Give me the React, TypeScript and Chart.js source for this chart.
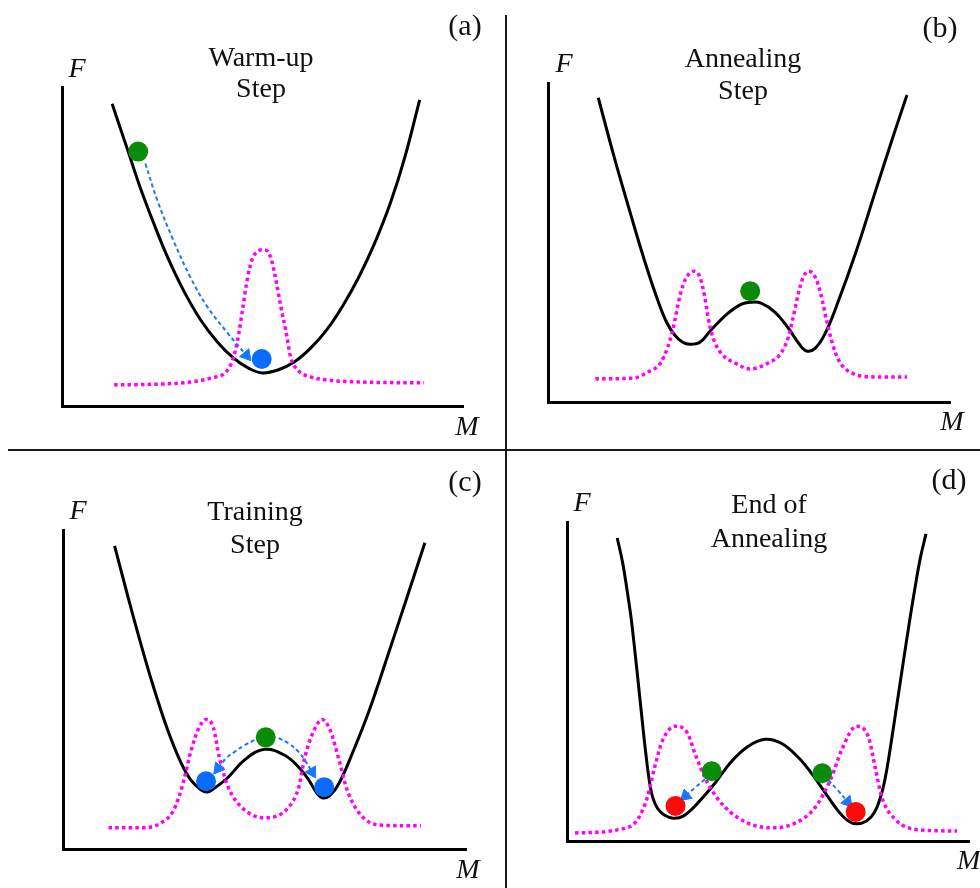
import React, { useEffect, useRef } from "react";
import { Chart, registerables } from "chart.js";

Chart.register(...registerables);

// ---------------- data: M along x (0..10), F along y (0..8), arbitrary units ----------------
// (a) Warm-up step
const warmupFreeEnergy = [
  [1.25, 7.58], [1.45, 6.98], [1.7, 6.23], [1.95, 5.48], [2.28, 4.6], [2.63, 3.74], [3.03, 2.9],
  [3.45, 2.17], [3.88, 1.6], [4.28, 1.2], [4.65, 0.95], [5.0, 0.83], [5.4, 0.91], [5.8, 1.11],
  [6.2, 1.45], [6.6, 1.91], [7.0, 2.51], [7.4, 3.23], [7.8, 4.09], [8.2, 5.12], [8.55, 6.24],
  [8.92, 7.68],
];
const warmupDistribution = [
  [1.3, 0.53], [2.45, 0.55], [3.2, 0.6], [3.7, 0.7], [4.13, 0.9], [4.28, 1.23], [4.38, 1.65],
  [4.5, 2.4], [4.63, 3.23], [4.75, 3.7], [4.88, 3.88], [5.0, 3.92], [5.13, 3.88], [5.24, 3.6],
  [5.35, 3.08], [5.46, 2.48], [5.58, 1.9], [5.7, 1.23], [5.88, 0.9], [6.2, 0.73], [6.63, 0.65],
  [7.5, 0.6], [9.03, 0.58],
];
const warmupPath = [[2.08, 6.08], [2.38, 5.15], [2.78, 4.15], [3.2, 3.23], [3.63, 2.48], [4.13, 1.83], [4.6, 1.27]];
const warmupStart = [[1.9, 6.38]];
const warmupEnd = [[4.98, 1.18]];

// (b) Annealing step
const annealFreeEnergy = [
  [1.25, 7.63], [1.65, 6.13], [2.05, 4.73], [2.4, 3.55], [2.73, 2.55], [2.95, 2.0], [3.15, 1.68],
  [3.35, 1.5], [3.53, 1.45], [3.78, 1.5], [4.05, 1.8], [4.48, 2.23], [4.8, 2.45], [5.03, 2.5],
  [5.3, 2.48], [5.65, 2.25], [5.98, 1.85], [6.23, 1.48], [6.43, 1.28], [6.65, 1.35], [6.9, 1.73],
  [7.23, 2.55], [7.65, 3.73], [8.15, 5.3], [8.55, 6.55], [8.93, 7.7],
];
const annealDistribution = [
  [1.18, 0.58], [2.13, 0.6], [2.48, 0.75], [2.8, 0.98], [2.98, 1.38], [3.1, 1.8], [3.3, 2.73],
  [3.43, 3.1], [3.63, 3.28], [3.78, 3.13], [3.9, 2.63], [3.98, 2.13], [4.1, 1.63], [4.3, 1.23],
  [4.65, 0.98], [5.03, 0.83], [5.48, 0.98], [5.8, 1.23], [5.98, 1.63], [6.1, 2.13], [6.23, 2.73],
  [6.35, 3.13], [6.48, 3.28], [6.65, 3.13], [6.78, 2.73], [6.93, 2.05], [7.05, 1.55], [7.23, 1.05],
  [7.55, 0.73], [8.15, 0.63], [8.93, 0.63],
];
const annealState = [[5.03, 2.78]];

// (c) Training step
const trainFreeEnergy = [
  [1.28, 7.6], [1.6, 6.37], [1.93, 5.15], [2.25, 4.05], [2.6, 2.98], [2.93, 2.16], [3.18, 1.72],
  [3.43, 1.48], [3.58, 1.43], [3.75, 1.52], [4.1, 1.8], [4.5, 2.23], [5.0, 2.5], [5.5, 2.35],
  [5.85, 2.05], [6.1, 1.73], [6.3, 1.4], [6.45, 1.28], [6.63, 1.35], [6.85, 1.65], [7.18, 2.4],
  [7.6, 3.48], [8.1, 4.98], [8.5, 6.2], [8.98, 7.68],
];
const trainDistribution = [
  [1.13, 0.53], [1.93, 0.53], [2.43, 0.65], [2.75, 0.98], [2.98, 1.65], [3.18, 2.48], [3.38, 3.05],
  [3.55, 3.25], [3.73, 3.05], [3.88, 2.3], [4.1, 1.55], [4.43, 1.05], [5.0, 0.78], [5.6, 1.05],
  [5.85, 1.55], [6.0, 2.3], [6.23, 2.98], [6.43, 3.25], [6.63, 2.98], [6.85, 2.23], [7.05, 1.48],
  [7.35, 0.9], [7.85, 0.6], [8.88, 0.58],
];
const trainPathLeft = [[4.75, 2.73], [4.5, 2.6], [4.25, 2.43], [4.05, 2.28], [3.85, 2.02]];
const trainPathRight = [[5.35, 2.78], [5.6, 2.65], [5.85, 2.43], [6.0, 2.23], [6.18, 1.93]];
const trainState = [[5.03, 2.8]];
const trainMinima = [[3.55, 1.7], [6.48, 1.55]];

// (d) End of annealing
const endFreeEnergy = [
  [1.25, 7.6], [1.38, 7.0], [1.5, 6.25], [1.6, 5.55], [1.695, 4.7], [1.785, 3.85], [1.87, 3.03],
  [1.96, 2.2], [2.05, 1.5], [2.13, 1.1], [2.25, 0.82], [2.42, 0.65], [2.65, 0.57], [2.9, 0.63],
  [3.25, 0.95], [3.68, 1.45], [4.08, 1.98], [4.5, 2.37], [4.93, 2.55], [5.33, 2.45], [5.75, 2.1],
  [6.08, 1.7], [6.43, 1.2], [6.75, 0.75], [7.0, 0.5], [7.2, 0.43], [7.45, 0.5], [7.65, 0.72],
  [7.8, 1.1], [7.92, 1.6], [8.03, 2.25], [8.155, 3.08], [8.28, 3.92], [8.405, 4.75], [8.53, 5.57],
  [8.66, 6.37], [8.79, 7.1], [8.93, 7.7],
];
const endDistribution = [
  [0.2, 0.2], [1.25, 0.28], [1.75, 0.53], [2.0, 1.1], [2.18, 1.85], [2.38, 2.53], [2.7, 2.88],
  [3.0, 2.7], [3.18, 2.2], [3.5, 1.45], [3.93, 0.85], [4.5, 0.45], [5.08, 0.33], [5.68, 0.45],
  [6.18, 0.85], [6.58, 1.6], [6.83, 2.28], [7.2, 2.88], [7.5, 2.6], [7.68, 1.78], [7.83, 1.1],
  [8.18, 0.53], [8.75, 0.28], [9.7, 0.25],
];
const endPathLeft = [[3.43, 1.55], [3.2, 1.35], [2.95, 1.13]];
const endPathRight = [[6.5, 1.53], [6.73, 1.28], [6.98, 0.98]];
const endStates = [[3.6, 1.75], [6.35, 1.7]];
const endMinima = [[2.7, 0.88], [7.18, 0.73]];

// ---------------- styling ----------------
const MAGENTA = "#ff00ff";
const BLACK = "#000000";
const GREEN = "#0a8c0a";
const BLUE = "#0a6cff";
const RED = "#ff0a0a";
const ARROW = "#1877ff";
const SERIF = '"Liberation Serif", "DejaVu Serif", serif';

const toPoints = (a: number[][]) => a.map(([x, y]) => ({ x, y }));

function arrowDataset(path: number[][]) {
  const n = path.length;
  return {
    data: toPoints(path),
    showLine: true,
    borderColor: ARROW,
    borderWidth: 2,
    borderDash: [4, 3],
    tension: 0.4,
    clip: false,
    pointStyle: "triangle",
    pointRadius: (c: any) => (c.dataIndex === n - 1 ? 7 : 0),
    pointBackgroundColor: ARROW,
    pointBorderColor: ARROW,
    pointBorderWidth: 1,
    pointRotation: (c: any) => {
      const chart = c.chart;
      const xs = chart.scales.x;
      const ys = chart.scales.y;
      const a = path[n - 2];
      const b = path[n - 1];
      const dx = xs.getPixelForValue(b[0]) - xs.getPixelForValue(a[0]);
      const dy = ys.getPixelForValue(b[1]) - ys.getPixelForValue(a[1]);
      return (Math.atan2(dx, -dy) * 180) / Math.PI;
    },
  };
}

function ballDataset(data: number[][], color: string) {
  return {
    data: toPoints(data),
    showLine: false,
    pointRadius: 10,
    pointBackgroundColor: color,
    pointBorderWidth: 0,
    clip: false,
  };
}

function buildDatasets(curve: number[][], dist: number[][], paths: number[][][], balls: [number[][], string][]) {
  return [
    ...balls.map(([d, c]) => ballDataset(d, c)),
    ...paths.map((p) => arrowDataset(p)),
    {
      data: toPoints(dist),
      showLine: true,
      borderColor: MAGENTA,
      borderWidth: 3.5,
      borderDash: [3.5, 3.2],
      cubicInterpolationMode: "monotone",
      pointRadius: 0,
      clip: false,
    },
    {
      data: toPoints(curve),
      showLine: true,
      borderColor: BLACK,
      borderWidth: 3,
      tension: 0.4,
      pointRadius: 0,
      clip: false,
    },
  ];
}

interface Label {
  text: string;
  x: number;
  y: number;
  font: string;
  align?: CanvasTextAlign;
}

const up = (s: number) => `${s}px ${SERIF}`;
const it = (s: number) => `italic ${s}px ${SERIF}`;

interface PanelSpec {
  key: string;
  left: number;
  top: number;
  width: number;
  height: number;
  padding: { left: number; top: number; right: number; bottom: number };
  build: () => any[];
  labels: Label[];
}

const panels: PanelSpec[] = [
  {
    key: "a",
    left: 0, top: 0, width: 506, height: 449,
    padding: { left: 62, top: 87, right: 43, bottom: 43 },
    build: () => buildDatasets(warmupFreeEnergy, warmupDistribution, [warmupPath], [[warmupStart, GREEN], [warmupEnd, BLUE]]),
    labels: [
      { text: "(a)", x: 465, y: 35, font: up(30) },
      { text: "Warm-up", x: 261, y: 66, font: up(28) },
      { text: "Step", x: 261, y: 97, font: up(28) },
      { text: "F", x: 77, y: 77, font: it(28) },
      { text: "M", x: 467, y: 435, font: it(28) },
    ],
  },
  {
    key: "b",
    left: 507, top: 0, width: 473, height: 449,
    padding: { left: 41, top: 83, right: 30, bottom: 47 },
    build: () => buildDatasets(annealFreeEnergy, annealDistribution, [], [[annealState, GREEN]]),
    labels: [
      { text: "(b)", x: 433, y: 37, font: up(30) },
      { text: "Annealing", x: 236, y: 67, font: up(28) },
      { text: "Step", x: 236, y: 99, font: up(28) },
      { text: "F", x: 57, y: 72, font: it(28) },
      { text: "M", x: 445, y: 430, font: it(28) },
    ],
  },
  {
    key: "c",
    left: 0, top: 451, width: 506, height: 437,
    padding: { left: 63, top: 79, right: 40, bottom: 39 },
    build: () =>
      buildDatasets(trainFreeEnergy, trainDistribution, [trainPathLeft, trainPathRight], [[trainState, GREEN], [trainMinima, BLUE]]),
    labels: [
      { text: "(c)", x: 465, y: 40, font: up(30) },
      { text: "Training", x: 255, y: 69, font: up(28) },
      { text: "Step", x: 255, y: 102, font: up(28) },
      { text: "F", x: 78, y: 68, font: it(28) },
      { text: "M", x: 468, y: 427, font: it(28) },
    ],
  },
  {
    key: "d",
    left: 507, top: 451, width: 473, height: 437,
    padding: { left: 60, top: 71, right: 11, bottom: 47 },
    build: () =>
      buildDatasets(endFreeEnergy, endDistribution, [endPathLeft, endPathRight], [[endStates, GREEN], [endMinima, RED]]),
    labels: [
      { text: "(d)", x: 442, y: 38, font: up(30) },
      { text: "End of", x: 262, y: 62, font: up(28) },
      { text: "Annealing", x: 262, y: 96, font: up(28) },
      { text: "F", x: 75, y: 60, font: it(28) },
      { text: "M", x: 450, y: 418, font: it(28), align: "left" },
    ],
  },
];

function labelPlugin(labels: Label[]) {
  return {
    id: "panelLabels",
    afterDraw(chart: any) {
      const ctx = chart.ctx as CanvasRenderingContext2D;
      ctx.save();
      ctx.fillStyle = "#111";
      ctx.textBaseline = "alphabetic";
      for (const l of labels) {
        ctx.font = l.font;
        ctx.textAlign = l.align || "center";
        ctx.fillText(l.text, l.x, l.y);
      }
      ctx.restore();
    },
  };
}

const axisOpts = (max: number) => ({
  type: "linear" as const,
  min: 0,
  max,
  grid: { display: false, drawTicks: false },
  ticks: { display: false },
  border: { display: true, color: BLACK, width: 3 },
});

function Panel({ spec }: { spec: PanelSpec }) {
  const ref = useRef<HTMLCanvasElement | null>(null);
  useEffect(() => {
    if (!ref.current) return;
    const chart = new Chart(ref.current, {
      type: "line",
      data: { datasets: spec.build() as any },
      options: {
        responsive: false,
        animation: false,
        events: [],
        devicePixelRatio: 1,
        layout: { padding: spec.padding },
        plugins: { legend: { display: false }, tooltip: { enabled: false }, title: { display: false } },
        scales: { x: axisOpts(10), y: axisOpts(8) } as any,
      },
      plugins: [labelPlugin(spec.labels)],
    });
    return () => chart.destroy();
  }, [spec]);
  return (
    <canvas
      ref={ref}
      width={spec.width}
      height={spec.height}
      style={{ position: "absolute", left: spec.left, top: spec.top, width: spec.width, height: spec.height }}
    />
  );
}

export default function App() {
  return (
    <div style={{ position: "absolute", left: 0, top: 0, width: 980, height: 888, background: "#fff", overflow: "hidden" }}>
      {panels.map((p) => (
        <Panel key={p.key} spec={p} />
      ))}
      <div style={{ position: "absolute", left: 505, top: 15, width: 2, height: 873, background: "#1a1a1a" }} />
      <div style={{ position: "absolute", left: 8, top: 449, width: 972, height: 2, background: "#1a1a1a" }} />
    </div>
  );
}
